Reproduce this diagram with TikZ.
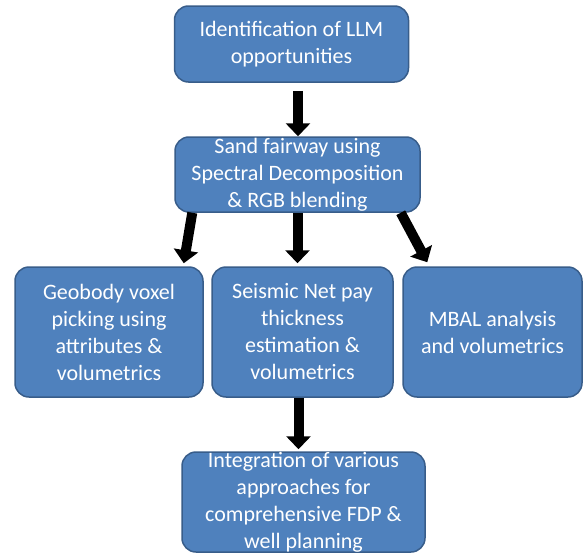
\documentclass[tikz,border=0pt]{standalone}
\usepackage{fontspec}
\setmainfont{Carlito}
\usetikzlibrary{arrows.meta,calc}
\definecolor{boxfill}{HTML}{4F81BD}
\definecolor{boxline}{HTML}{385D8A}
\tikzset{
  box/.style={draw=boxline, line width=1.5pt, fill=boxfill, rounded corners=14pt,
    text=white, align=center, inner sep=0pt,
    font=\fontsize{22}{27}\selectfont},
  blk/.style={draw=black, line width=10pt, -{Triangle[length=13pt,width=24pt]}}
}
\begin{document}
\begin{tikzpicture}[x=1pt,y=-1pt]
\useasboundingbox (0,0) rectangle (584,554);
\fill[white] (0,0) rectangle (584,554);
\node[box, minimum width=234pt, minimum height=76pt] (b1) at (291.5,44) {Identification of LLM\\opportunities};
\node[box, minimum width=245pt, minimum height=75pt] (b2) at (297.5,174.5) {Sand fairway using\\Spectral Decomposition\\\& RGB blending};
\node[box, minimum width=188pt, minimum height=130pt] (b3) at (109,332) {Geobody voxel\\picking using\\attributes \&\\volumetrics};
\node[box, minimum width=181pt, minimum height=130pt] (b4) at (302.5,332) {Seismic Net pay\\thickness\\estimation \&\\volumetrics};
\node[box, minimum width=179pt, minimum height=130pt] (b5) at (492.5,332) {MBAL analysis\\and volumetrics};
\node[box, minimum width=243pt, minimum height=100pt] (b6) at (303.5,502) {Integration of various\\approaches for\\comprehensive FDP \&\\well planning};
\coordinate (s1) at ($(b1.south)+(6.5,8)$);
\coordinate (e1) at ($(b2.north)+(0,0)$);
\coordinate (sL) at ($(b2.south west)+(18,0)$);
\coordinate (eL) at ($(b3.north east)+(-20,-3)$);
\coordinate (sM) at ($(b2.south)+(0,0)$);
\coordinate (eM) at ($(b4.north)+(-4,-3)$);
\coordinate (sR) at ($(b2.south east)+(-20,0)$);
\coordinate (eR) at ($(b5.north west)+(25,-4)$);
\coordinate (s4) at ($(b4.south)+(-4,0)$);
\coordinate (e4) at ($(b6.north)+(-5.5,-2)$);
\draw[blk] (s1) -- (s1 |- e1);
\draw[blk] (sL) -- (eL);
\draw[blk] (sM) -- (sM |- eM);
\draw[blk] (sR) -- (eR);
\draw[blk] (s4) -- (s4 |- e4);
\end{tikzpicture}
\end{document}
